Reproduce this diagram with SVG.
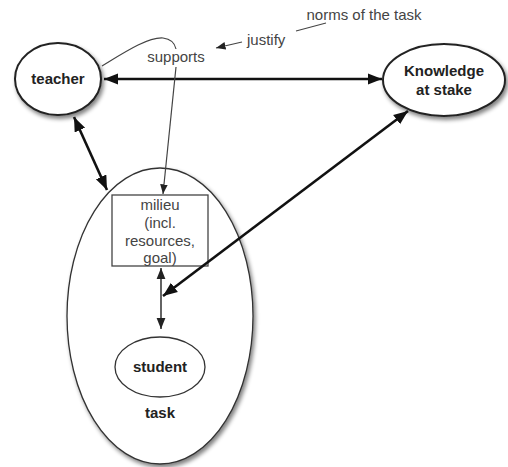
<svg xmlns="http://www.w3.org/2000/svg" width="508" height="467" viewBox="0 0 508 467">
<style>
text{font-family:"Liberation Sans",Arial,sans-serif;fill:#333}
.b{font-weight:bold;font-size:15px;fill:#222}
.n{font-size:15px;fill:#444}
.node{fill:#fff;stroke:#222;stroke-width:2}
.thin{fill:none;stroke:#444;stroke-width:1.2}
.thick{fill:none;stroke:#111;stroke-width:2.6}
.med{fill:none;stroke:#222;stroke-width:1.4}
</style>
<defs>
<filter id="sh" x="-20%" y="-20%" width="150%" height="150%">
<feGaussianBlur in="SourceAlpha" stdDeviation="2"/>
<feOffset dx="2" dy="3"/>
<feComponentTransfer><feFuncA type="linear" slope="0.5"/></feComponentTransfer>
<feMerge><feMergeNode/><feMergeNode in="SourceGraphic"/></feMerge>
</filter>
<marker id="ah" viewBox="0 0 10 10" refX="10" refY="5" markerWidth="5.5" markerHeight="5.5" orient="auto-start-reverse" markerUnits="strokeWidth"><path d="M0,1 L10,5 L0,9 z" fill="#111"/></marker>
<marker id="ahs" viewBox="0 0 10 10" refX="10" refY="5" markerWidth="8" markerHeight="8" orient="auto-start-reverse" markerUnits="strokeWidth"><path d="M0,1 L10,5 L0,9 z" fill="#222"/></marker>
</defs>
<g id="task">
<ellipse cx="160" cy="316" rx="93" ry="148" fill="#fff" stroke="#333" stroke-width="1.3" filter="url(#sh)"/>
<text class="b" x="160" y="418" text-anchor="middle">task</text>
</g>
<g id="teacher">
<ellipse class="node" cx="58" cy="79" rx="43" ry="36" filter="url(#sh)"/>
<text class="b" x="58" y="84" text-anchor="middle">teacher</text>
</g>
<g id="knowledge">
<ellipse class="node" cx="444" cy="80" rx="61" ry="36" filter="url(#sh)"/>
<text class="b" x="444" y="76" text-anchor="middle">Knowledge</text>
<text class="b" x="444" y="95" text-anchor="middle">at stake</text>
</g>
<g id="milieu">
<rect x="112" y="195" width="96" height="71" fill="#fff" stroke="#444" stroke-width="1.3"/>
<text class="n" text-anchor="middle"><tspan x="160" y="210">milieu</tspan><tspan x="160" y="228">(incl.</tspan><tspan x="160" y="246">resources,</tspan><tspan x="160" y="263">goal)</tspan></text>
</g>
<g id="student">
<ellipse cx="160" cy="367" rx="45" ry="30" fill="#fff" stroke="#333" stroke-width="1.3"/>
<text class="b" x="160" y="372" text-anchor="middle">student</text>
</g>
<g id="labels">
<text class="n" x="176" y="62" text-anchor="middle">supports</text>
<text class="n" x="247" y="45">justify</text>
<text class="n" x="364" y="20" text-anchor="middle">norms of the task</text>
</g>
<g id="connectors">
<line class="thick" x1="104" y1="79" x2="382" y2="79" marker-start="url(#ah)" marker-end="url(#ah)"/>
<line class="thick" x1="74" y1="117" x2="107" y2="190" marker-start="url(#ah)" marker-end="url(#ah)"/>
<line class="thick" x1="408" y1="111" x2="163" y2="296" marker-start="url(#ah)" marker-end="url(#ah)"/>
<line class="med" x1="161" y1="268" x2="161" y2="329" marker-start="url(#ahs)" marker-end="url(#ahs)"/>
<path class="thin" d="M102,66 C125,52 148,37 163,38 C171,39 175,44 176,49"/>
<line class="thin" x1="176" y1="67" x2="163" y2="194" marker-end="url(#ahs)"/>
<line class="thin" x1="242" y1="42" x2="216" y2="48" marker-end="url(#ahs)"/>
<line class="thin" x1="296" y1="31" x2="326" y2="23"/>
</g>
</svg>
